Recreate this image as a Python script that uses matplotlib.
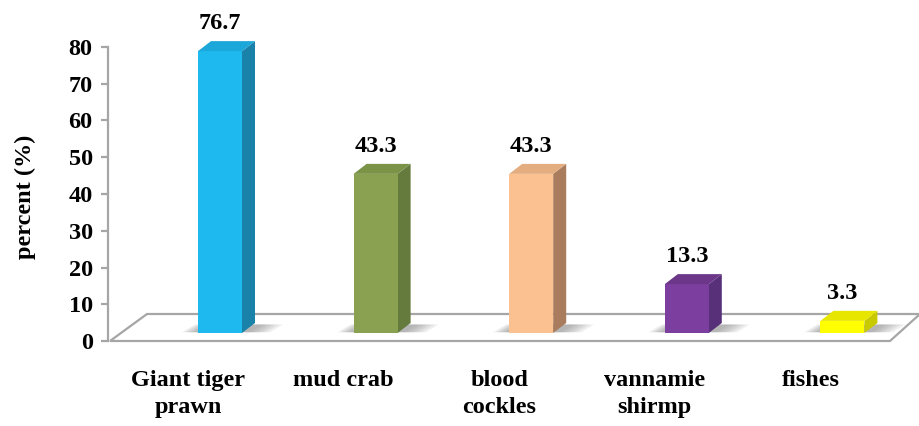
import matplotlib
matplotlib.use("Agg")
import matplotlib.pyplot as plt
from matplotlib.patches import Polygon
from matplotlib.transforms import ScaledTranslation

# ---- data ----
categories = ["Giant tiger\nprawn", "mud crab", "blood\ncockles", "vannamie\nshirmp", "fishes"]
values = [76.7, 43.3, 43.3, 13.3, 3.3]
labels = ["76.7", "43.3", "43.3", "13.3", "3.3"]
yticks = [0, 10, 20, 30, 40, 50, 60, 70, 80]

# ---- styles ----
front_colors = ["#1db9ef", "#8aa152", "#fbc190", "#7d3f9f", "#ffff00"]
side_colors = ["#1a82a8", "#657a3d", "#a87c5c", "#58307a", "#c9c900"]
top_colors = ["#1ba7d9", "#7b9347", "#e4ad80", "#6c3689", "#e6e600"]
edge_gray = "#a6a6a6"
serif = ["Liberation Serif", "DejaVu Serif"]
FS = 17.5

W, H, DPI = 920, 426, 100
fig = plt.figure(figsize=(W / DPI, H / DPI), dpi=DPI)

# axes geometry in pixels
ax_left, ax_right = 108, 920
ax_bottom_px, ax_top_px = 341, 47          # measured from the top of the figure
cat0_px, cat_step_px = 188, 155.6          # category centres along the floor's front edge

x_lo = (ax_left - cat0_px) / cat_step_px
x_hi = (ax_right - cat0_px) / cat_step_px
ax = fig.add_axes([ax_left / W, (H - ax_bottom_px) / H,
                   (ax_right - ax_left) / W, (ax_bottom_px - ax_top_px) / H])
ax.set_xlim(x_lo, x_hi)
ax.set_ylim(0, 80)
ax.patch.set_alpha(0)

sx = cat_step_px                                   # px per x unit
sy = (ax_bottom_px - ax_top_px) / 80.0             # px per y unit

# floor (parallelogram)
floor_depth_px = (37, 27)
front_l = ((110 - cat0_px) / sx, 0)
front_r = ((890 - cat0_px) / sx, 0)
back_r = ((920 - cat0_px) / sx, floor_depth_px[1] / sy)
back_l = ((147 - cat0_px) / sx, floor_depth_px[1] / sy)
ax.add_patch(Polygon([front_l, front_r, back_r, back_l], closed=True,
                     facecolor="white", edgecolor=edge_gray, lw=1.6,
                     zorder=1, clip_on=False))

# bars sit a little behind the front edge of the floor
bar_offset = ScaledTranslation(32 / DPI, 8 / DPI, fig.dpi_scale_trans)
btrans = ax.transData + bar_offset
bar_w = 44 / sx
ddx, ddy = 13 / sx, 10 / sy

xs = list(range(len(values)))

# soft shadows on the floor
for x in xs:
    xl, xr = x - bar_w / 2, x + bar_w / 2
    for k in range(6):
        grow_l = (16 - 2.5 * k) / sx
        grow_r = (28 - 4 * k) / sx
        ax.add_patch(Polygon([(xl - grow_l, 0.2), (xr + grow_r, 0.2),
                              (xr + grow_r + ddx, ddy * 0.85), (xl - grow_l + ddx, ddy * 0.85)],
                             closed=True, facecolor="#707070", edgecolor="none",
                             alpha=0.11, transform=btrans, zorder=2, clip_on=False))

bars = ax.bar(xs, values, width=bar_w, color=front_colors, zorder=4, clip_on=False)
for b in bars:
    b.set_transform(btrans)

for x, v, sc, tc, lab in zip(xs, values, side_colors, top_colors, labels):
    xl, xr = x - bar_w / 2, x + bar_w / 2
    side = Polygon([(xr, 0), (xr + ddx, ddy), (xr + ddx, v + ddy), (xr, v)],
                   closed=True, facecolor=sc, edgecolor="none",
                   transform=btrans, zorder=3, clip_on=False)
    top = Polygon([(xl, v), (xr, v), (xr + ddx, v + ddy), (xl + ddx, v + ddy)],
                  closed=True, facecolor=tc, edgecolor="none",
                  transform=btrans, zorder=5, clip_on=False)
    ax.add_patch(side)
    ax.add_patch(top)
    ax.annotate(lab, xy=(x, v + ddy), xycoords=btrans, xytext=(0, 8.5),
                textcoords="offset points", ha="center", va="baseline",
                fontsize=FS, fontweight="bold", family=serif, zorder=6)

# axes decoration
for s in ["top", "right", "bottom"]:
    ax.spines[s].set_visible(False)
ax.spines["left"].set_color(edge_gray)
ax.spines["left"].set_linewidth(1.6)
ax.set_yticks(yticks)
ax.set_yticklabels([str(t) for t in yticks], fontsize=FS, fontweight="bold", family=serif)
ax.tick_params(axis="y", direction="out", length=5, width=1.6, color=edge_gray, pad=6)

ax.set_xticks(xs)
ax.set_xticklabels(categories, fontsize=FS, fontweight="bold", family=serif,
                   linespacing=1.35)
ax.tick_params(axis="x", length=0, pad=21)

fig.text(25 / W, 1 - 197 / H, "percent (%)", rotation=90, ha="center", va="center",
         fontsize=17.5, fontweight="bold", family=serif)

fig.savefig("out.png", dpi=DPI, facecolor="white")
